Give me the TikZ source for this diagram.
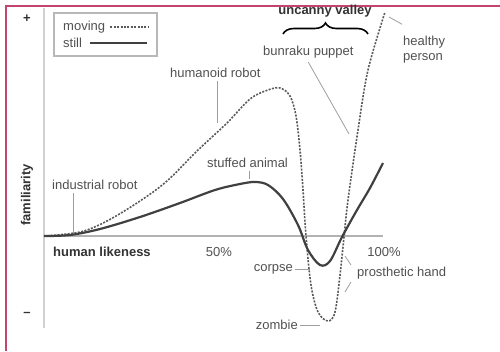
\documentclass[tikz,border=0pt]{standalone}
\usepackage{fontspec}
\setmainfont{Liberation Sans}
\usetikzlibrary{positioning,decorations.pathreplacing}
\definecolor{framecol}{RGB}{196,68,112}
\definecolor{txt}{RGB}{80,80,80}

\begin{document}
\begin{tikzpicture}[x=1pt,y=-1pt,
  every node/.style={font=\fontsize{13}{15}\selectfont,text=txt,inner sep=0pt},
  lab/.style={anchor=west},
  heavy/.style={font=\fontsize{13}{15}\selectfont\bfseries,text=black!80},
  lead/.style={draw=black!38,line width=0.8pt},
  axis/.style={draw=black!30,line width=1.2pt},
  moving/.style={draw=black!65,line width=1.6pt,dash pattern=on 2pt off 1.4pt},
  still/.style={draw=black!75,line width=2.2pt}
]
  \useasboundingbox (0,0) rectangle (500,351);
  \draw[framecol,line width=1.5pt] (6,351) -- (6,6) -- (500,6);

  % axes
  \draw[axis,draw=black!18,line width=2.5pt] (44,8) -- (44,328);
  \draw[axis] (44,236) -- (383,236);
  \node[heavy] (plus) at (27,19) {+};
  \node[heavy] (minus) at (27,314) {--};
  \node[heavy,rotate=90] (fam) at (27,195) {familiarity};
  \node[heavy,lab] (likeness) at (53,252) {human likeness};
  \node (half) at (219,252) {50\%};
  \node (full) at (384,252) {100\%};

  % legend
  \draw[draw=black!28,line width=1.3pt] (54,13) rectangle (157,56);
  \node[lab] (legmov) at (63,27) {moving};
  \node[lab] (legstill) at (63,43) {still};
  \draw[moving,line width=1.2pt] (legmov.east) ++(5,0) -- (148,27);
  \draw[still,line width=1.6pt] (legstill.east) ++(8,0) -- (147,43);

  % curves
  \draw[moving] plot[smooth,tension=0.55] coordinates {
    (44,236) (80,232) (107,221) (140,201) (167,181) (197,151) (227,123)
    (250,99) (268,90) (280,88) (290,96) (296,116) (300,150) (303,190)
    (306,236) (311,285) (318,312) (328,321) (335,312) (340,275) (344,237)
    (348,200) (358,130) (368,70) (385,12)};
  \draw[still] plot[smooth,tension=0.55] coordinates {
    (44,236) (70,235) (100,229) (140,217) (180,203) (215,190) (240,184)
    (255,182) (268,185) (283,199) (298,225) (308,250) (320,265) (330,261)
    (342,237) (357,210) (370,188) (383,163)};

  % labels
  \node[lab] (indrob) at (52,185) {industrial robot};
  \node[lab] (humrob) at (170,73) {humanoid robot};
  \node[lab] (stuffed) at (207,163) {stuffed animal};
  \node[heavy] (valley) at (325,11) {uncanny valley};
  \node[lab] (bunraku) at (263,52) {bunraku puppet};
  \node[lab,align=left] (healthy) at (403,50) {healthy\\person};
  \node[anchor=east] (corpse) at (293,269) {corpse};
  \node[lab] (prosth) at (357,273) {prosthetic hand};
  \node[anchor=east] (zombie) at (298,325) {zombie};

  \coordinate (c-ind) at (73,233);
  \coordinate (c-hum) at (217,123);
  \coordinate (c-stuff) at (249,179);
  \coordinate (c-bun) at (349,134);
  \coordinate (c-heal) at (389,17);
  \coordinate (c-corpse) at (310,269);
  \coordinate (c-pup) at (345,256);
  \coordinate (c-plo) at (345,292);
  \coordinate (c-zomb) at (320,325);

  \draw[lead] (c-ind |- indrob.south) ++(0,3) -- (c-ind);
  \draw[lead] (c-hum |- humrob.south) ++(0,3) -- (c-hum);
  \draw[lead] (c-stuff |- stuffed.south) ++(0,3) -- (c-stuff);
  \draw[lead] (bunraku.south) ++(0,4) -- (c-bun);
  \draw[lead] (healthy.north west) ++(-1,-12) -- (c-heal);
  \draw[lead] (corpse.east) ++(2,0) -- (c-corpse);
  \draw[lead] (prosth.west) ++(-6,-8) -- (c-pup);
  \draw[lead] (prosth.west) ++(-6,9) -- (c-plo);
  \draw[lead] (zombie.east) ++(2,0) -- (c-zomb);

  \draw[decorate,decoration={brace,amplitude=11pt},line width=1.6pt]
    (283,34) -- (368,34);
\end{tikzpicture}
\end{document}
